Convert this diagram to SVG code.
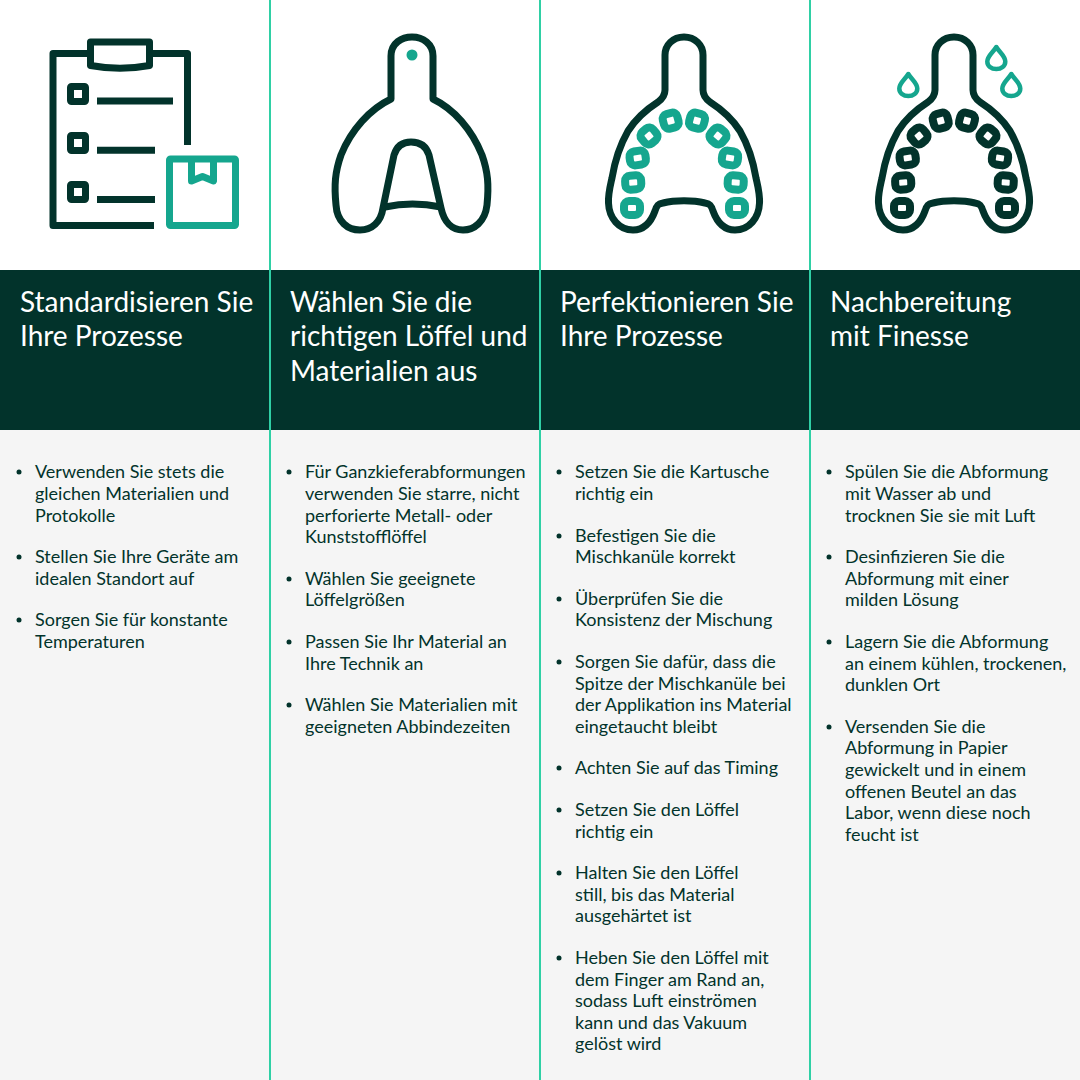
<svg xmlns="http://www.w3.org/2000/svg" width="1080" height="1080" viewBox="0 0 1080 1080">
<defs>
<style>
.h{font:400 28px "Lato","Liberation Sans",sans-serif;fill:#fff}
.b{font:400 18px "Lato","Liberation Sans",sans-serif;fill:#02332b}
.d{fill:none;stroke:#02332b;stroke-width:7;stroke-linejoin:round}
.t{fill:none;stroke:#15a68e;stroke-width:7;stroke-linejoin:round}
.th{stroke-width:8}
.dr{stroke-width:4.500}
.dot{fill:#02332b}
.sep{stroke:#2fd0a5;stroke-width:2;fill:none}
</style>
<path id="tray" d="M144 37 C133 37 125 45 125 55 V90 C125 96 122 99 118 102 C104 111 95 120 88 131 C80 145 75 160 72 178 C70 187 68 194 68.500 203 C69 218 79 230 93 230 C105 230 111 222 115 211 C117 205 118 204 123 203 C135 200 153 200 165 203 C170 204 171 205 173 211 C177 222 183 230 195 230 C209 230 219 218 219.500 203 C220 194 218 187 216 178 C213 160 208 145 200 131 C193 120 184 111 170 102 C166 99 163 96 163 90 V55 C163 45 155 37 144 37Z"/>
<rect id="tooth" x="-8" y="-7" width="16" height="14" rx="5"/>
<rect id="toothb" x="-7.500" y="-7.500" width="15" height="15" rx="5"/>
<path id="drop" d="M0 -11 C3 -6 9 -2 9 3.500 C9 8 5 11 0 11 C-5 11 -9 8 -9 3.500 C-9 -2 -3 -6 0 -11Z"/>
<g id="teeth">
<use href="#tooth" transform="translate(92 208)"/>
<use href="#tooth" transform="translate(93.200 182.500) rotate(-3)"/>
<use href="#tooth" transform="translate(97.700 158) rotate(-8)"/>
<use href="#toothb" transform="translate(109 136) rotate(-40)"/>
<use href="#toothb" transform="translate(130.700 120.700) rotate(-15)"/>
<use href="#toothb" transform="translate(157 120.700) rotate(15)"/>
<use href="#toothb" transform="translate(178 136) rotate(40)"/>
<use href="#tooth" transform="translate(190 158) rotate(8)"/>
<use href="#tooth" transform="translate(195.700 182.500) rotate(3)"/>
<use href="#tooth" transform="translate(197 208)"/>
</g>
</defs>
<rect width="1080" height="1080" fill="#fff"/>
<rect y="270" width="1080" height="160" fill="#02332b"/>
<rect y="430" width="1080" height="650" fill="#f5f5f5"/>
<g id="separators"><path class="sep" d="M270 0V1080M540 0V1080M810 0V1080"/></g>
<g id="icon1">
<path class="d" d="M154 225.500 H53 V53.500 H90 M150 53.500 H187.500 V145"/>
<path class="d" d="M90.500 42 H149.500 V65.500 Q120 71 90.500 65.500Z"/>
<rect class="d" x="70.500" y="86.500" width="15" height="15" rx="1"/>
<rect class="d" x="70.500" y="135.500" width="15" height="15" rx="1"/>
<rect class="d" x="70.500" y="184.500" width="15" height="15" rx="1"/>
<path class="d" d="M97 101H173M97 150.300H155M97 199.500H155"/>
<rect class="t" x="169.500" y="159" width="66" height="66.500" rx="1"/>
<path class="t" d="M191.500 159V181L202.500 176.500L213.500 181V159"/>
</g>
<g id="icon2">
<path class="d" d="M391 99 V56 C391 43 402 37 412 37 C423 37 433 44 433 56 V99 C454 109 472 130 482 155 C488 172 489 185 487 205 C485 222 474 230 463 230 C452 230 444 222 441 208 L429 155 C426 145 419 142 411 142 C404 142 397 145 394 155 L383 208 C381 222 372 230 360 230 C348 230 337 222 336 205 C334 185 335 172 341 155 C351 130 370 109 391 99Z"/>
<path class="d" d="M385 207 Q412 201 441 207"/>
<circle cx="412" cy="55" r="5.500" fill="#15a68e"/>
</g>
<g id="icon3">
<use href="#tray" class="d" transform="translate(540 0)"/>
<use href="#teeth" class="t th" transform="translate(540 0)"/>
</g>
<g id="icon4">
<use href="#tray" class="d" transform="translate(810 0)"/>
<use href="#teeth" class="d th" transform="translate(810 0)"/>
<use href="#drop" class="t dr" transform="translate(908.300 85)"/>
<use href="#drop" class="t dr" transform="translate(996.300 58)"/>
<use href="#drop" class="t dr" transform="translate(1011.300 85)"/>
</g>
<g id="col1">
<text class="h" x="20" y="312">Standardisieren Sie</text>
<text class="h" x="20" y="346">Ihre Prozesse</text>
<circle class="dot" cx="19" cy="472" r="2.500"/>
<text class="b" x="35" y="478">Verwenden Sie stets die</text>
<text class="b" x="35" y="500">gleichen Materialien und</text>
<text class="b" x="35" y="522">Protokolle</text>
<circle class="dot" cx="19" cy="557" r="2.500"/>
<text class="b" x="35" y="563">Stellen Sie Ihre Geräte am</text>
<text class="b" x="35" y="585">idealen Standort auf</text>
<circle class="dot" cx="19" cy="620" r="2.500"/>
<text class="b" x="35" y="626">Sorgen Sie für konstante</text>
<text class="b" x="35" y="648">Temperaturen</text>
</g>
<g id="col2">
<text class="h" x="290" y="312">Wählen Sie die</text>
<text class="h" x="290" y="346">richtigen Löffel und</text>
<text class="h" x="290" y="381">Materialien aus</text>
<circle class="dot" cx="289" cy="472" r="2.500"/>
<text class="b" x="305" y="478">Für Ganzkieferabformungen</text>
<text class="b" x="305" y="500">verwenden Sie starre, nicht</text>
<text class="b" x="305" y="522">perforierte Metall- oder</text>
<text class="b" x="305" y="543">Kunststofflöffel</text>
<circle class="dot" cx="289" cy="579" r="2.500"/>
<text class="b" x="305" y="585">Wählen Sie geeignete</text>
<text class="b" x="305" y="606">Löffelgrößen</text>
<circle class="dot" cx="289" cy="642" r="2.500"/>
<text class="b" x="305" y="648">Passen Sie Ihr Material an</text>
<text class="b" x="305" y="670">Ihre Technik an</text>
<circle class="dot" cx="289" cy="705" r="2.500"/>
<text class="b" x="305" y="711">Wählen Sie Materialien mit</text>
<text class="b" x="305" y="733">geeigneten Abbindezeiten</text>
</g>
<g id="col3">
<text class="h" x="560" y="312">Perfektionieren Sie</text>
<text class="h" x="560" y="346">Ihre Prozesse</text>
<circle class="dot" cx="559" cy="472" r="2.500"/>
<text class="b" x="575" y="478">Setzen Sie die Kartusche</text>
<text class="b" x="575" y="500">richtig ein</text>
<circle class="dot" cx="559" cy="536" r="2.500"/>
<text class="b" x="575" y="542">Befestigen Sie die</text>
<text class="b" x="575" y="563">Mischkanüle korrekt</text>
<circle class="dot" cx="559" cy="599" r="2.500"/>
<text class="b" x="575" y="605">Überprüfen Sie die</text>
<text class="b" x="575" y="626">Konsistenz der Mischung</text>
<circle class="dot" cx="559" cy="662" r="2.500"/>
<text class="b" x="575" y="668">Sorgen Sie dafür, dass die</text>
<text class="b" x="575" y="690">Spitze der Mischkanüle bei</text>
<text class="b" x="575" y="711">der Applikation ins Material</text>
<text class="b" x="575" y="733">eingetaucht bleibt</text>
<circle class="dot" cx="559" cy="768" r="2.500"/>
<text class="b" x="575" y="774">Achten Sie auf das Timing</text>
<circle class="dot" cx="559" cy="810" r="2.500"/>
<text class="b" x="575" y="816">Setzen Sie den Löffel</text>
<text class="b" x="575" y="838">richtig ein</text>
<circle class="dot" cx="559" cy="873" r="2.500"/>
<text class="b" x="575" y="879">Halten Sie den Löffel</text>
<text class="b" x="575" y="901">still, bis das Material</text>
<text class="b" x="575" y="922">ausgehärtet ist</text>
<circle class="dot" cx="559" cy="958" r="2.500"/>
<text class="b" x="575" y="964">Heben Sie den Löffel mit</text>
<text class="b" x="575" y="986">dem Finger am Rand an,</text>
<text class="b" x="575" y="1007">sodass Luft einströmen</text>
<text class="b" x="575" y="1029">kann und das Vakuum</text>
<text class="b" x="575" y="1050">gelöst wird</text>
</g>
<g id="col4">
<text class="h" x="830" y="312">Nachbereitung</text>
<text class="h" x="830" y="346">mit Finesse</text>
<circle class="dot" cx="829" cy="472" r="2.500"/>
<text class="b" x="845" y="478">Spülen Sie die Abformung</text>
<text class="b" x="845" y="500">mit Wasser ab und</text>
<text class="b" x="845" y="522">trocknen Sie sie mit Luft</text>
<circle class="dot" cx="829" cy="557" r="2.500"/>
<text class="b" x="845" y="563">Desinfizieren Sie die</text>
<text class="b" x="845" y="585">Abformung mit einer</text>
<text class="b" x="845" y="606">milden Lösung</text>
<circle class="dot" cx="829" cy="642" r="2.500"/>
<text class="b" x="845" y="648">Lagern Sie die Abformung</text>
<text class="b" x="845" y="670">an einem kühlen, trockenen,</text>
<text class="b" x="845" y="691">dunklen Ort</text>
<circle class="dot" cx="829" cy="727" r="2.500"/>
<text class="b" x="845" y="733">Versenden Sie die</text>
<text class="b" x="845" y="754">Abformung in Papier</text>
<text class="b" x="845" y="776">gewickelt und in einem</text>
<text class="b" x="845" y="798">offenen Beutel an das</text>
<text class="b" x="845" y="819">Labor, wenn diese noch</text>
<text class="b" x="845" y="841">feucht ist</text>
</g>
</svg>
